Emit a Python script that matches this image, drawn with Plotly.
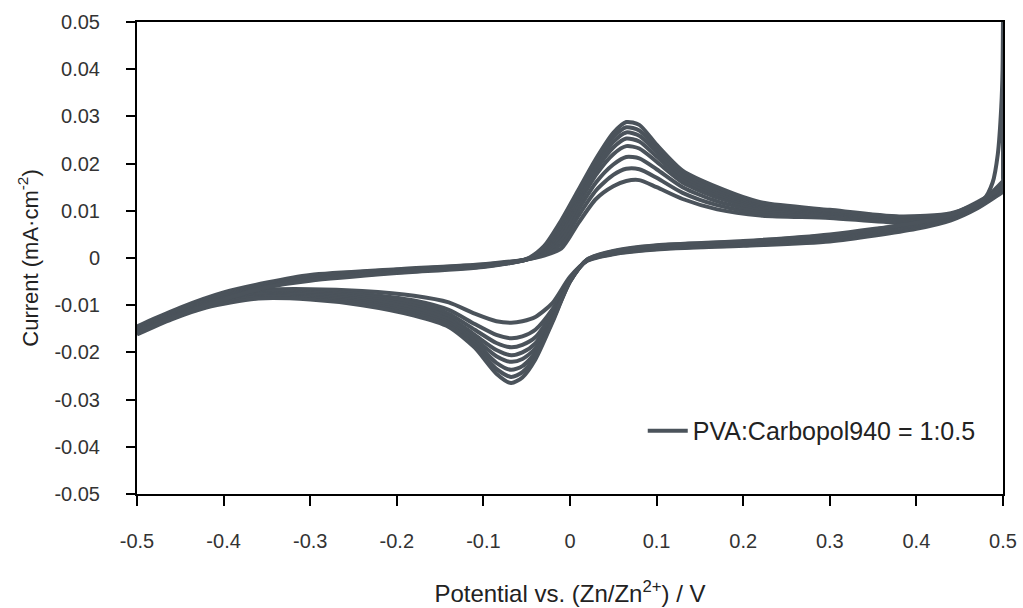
import plotly.graph_objects as go

# Potential grids (V) for the anodic (forward) and cathodic (reverse) sweeps
E_FWD = [-0.50, -0.45, -0.40, -0.35, -0.30, -0.20, -0.10, -0.05, -0.03, -0.01, 0.01, 0.03,
         0.05, 0.065, 0.08, 0.10, 0.13, 0.17, 0.22, 0.30, 0.38, 0.44, 0.47, 0.49, 0.50]
E_REV = [0.50, 0.47, 0.44, 0.40, 0.30, 0.20, 0.10, 0.05, 0.02, 0.00, -0.02, -0.04,
         -0.055, -0.068, -0.085, -0.11, -0.14, -0.18, -0.24, -0.30, -0.36, -0.42, -0.46, -0.50]

# Current density (mA/cm2), forward sweeps of the 8 cycles
I_FWD_1 = [-0.0145, -0.0105, -0.0073, -0.0052, -0.0036, -0.0024, -0.0013, -0.0003, 0.0005, 0.0020, 0.0075, 0.0125,
           0.0152, 0.0163, 0.0165, 0.0150, 0.0125, 0.0103, 0.0090, 0.0085, 0.0075, 0.0082, 0.0105, 0.0128, 0.0140]
I_FWD_2 = [-0.0148, -0.0108, -0.0075, -0.0054, -0.0038, -0.0025, -0.0014, -0.0003, 0.0008, 0.0030, 0.0090, 0.0143,
           0.0176, 0.0189, 0.0188, 0.0170, 0.0138, 0.0112, 0.0095, 0.0088, 0.0077, 0.0084, 0.0107, 0.0130, 0.0143]
I_FWD_3 = [-0.0150, -0.0110, -0.0078, -0.0055, -0.0040, -0.0026, -0.0015, -0.0003, 0.0011, 0.0040, 0.0103, 0.0160,
           0.0198, 0.0214, 0.0211, 0.0188, 0.0150, 0.0120, 0.0100, 0.0091, 0.0079, 0.0086, 0.0110, 0.0132, 0.0160]
I_FWD_4 = [-0.0152, -0.0112, -0.0080, -0.0057, -0.0042, -0.0027, -0.0016, -0.0003, 0.0014, 0.0050, 0.0115, 0.0176,
           0.0220, 0.0237, 0.0232, 0.0204, 0.0160, 0.0128, 0.0105, 0.0094, 0.0081, 0.0088, 0.0112, 0.0135, 0.0148]
I_FWD_5 = [-0.0154, -0.0114, -0.0082, -0.0058, -0.0043, -0.0028, -0.0017, -0.0003, 0.0017, 0.0060, 0.0125, 0.0187,
           0.0234, 0.0253, 0.0247, 0.0215, 0.0167, 0.0135, 0.0109, 0.0096, 0.0083, 0.0090, 0.0114, 0.0137, 0.0163]
I_FWD_6 = [-0.0156, -0.0116, -0.0084, -0.0060, -0.0045, -0.0029, -0.0017, -0.0003, 0.0020, 0.0068, 0.0133, 0.0196,
           0.0246, 0.0266, 0.0259, 0.0225, 0.0174, 0.0140, 0.0112, 0.0098, 0.0085, 0.0092, 0.0116, 0.0139, 0.0152]
I_FWD_7 = [-0.0158, -0.0118, -0.0086, -0.0061, -0.0046, -0.0030, -0.0018, -0.0003, 0.0023, 0.0074, 0.0140, 0.0204,
           0.0256, 0.0277, 0.0270, 0.0233, 0.0180, 0.0145, 0.0115, 0.0100, 0.0087, 0.0093, 0.0118, 0.0140, 0.0154]
I_FWD_8 = [-0.0160, -0.0120, -0.0088, -0.0062, -0.0048, -0.0032, -0.0019, -0.0002, 0.0025, 0.0080, 0.0145, 0.0210,
           0.0265, 0.0288, 0.0282, 0.0240, 0.0185, 0.0150, 0.0118, 0.0102, 0.0088, 0.0095, 0.0120, 0.0142, 0.0155]

# Reverse sweeps of the 8 cycles
I_REV_1 = [0.0140, 0.0105, 0.0080, 0.0062, 0.0035, 0.0026, 0.0018, 0.0008, -0.0006, -0.0040, -0.0095, -0.0125,
           -0.0134, -0.0137, -0.0134, -0.0118, -0.0094, -0.0080, -0.0070, -0.0066, -0.0068, -0.0088, -0.0115, -0.0145]
I_REV_2 = [0.0143, 0.0107, 0.0082, 0.0064, 0.0037, 0.0027, 0.0019, 0.0009, -0.0005, -0.0043, -0.0108, -0.0152,
           -0.0166, -0.0170, -0.0163, -0.0140, -0.0110, -0.0090, -0.0076, -0.0070, -0.0071, -0.0090, -0.0118, -0.0148]
I_REV_3 = [0.0160, 0.0108, 0.0084, 0.0066, 0.0040, 0.0029, 0.0020, 0.0010, -0.0005, -0.0045, -0.0115, -0.0168,
           -0.0184, -0.0189, -0.0180, -0.0152, -0.0118, -0.0096, -0.0080, -0.0073, -0.0073, -0.0093, -0.0120, -0.0150]
I_REV_4 = [0.0148, 0.0110, 0.0086, 0.0068, 0.0042, 0.0030, 0.0021, 0.0011, -0.0004, -0.0047, -0.0121, -0.0181,
           -0.0200, -0.0206, -0.0195, -0.0163, -0.0125, -0.0102, -0.0084, -0.0076, -0.0076, -0.0095, -0.0122, -0.0152]
I_REV_5 = [0.0163, 0.0111, 0.0087, 0.0070, 0.0044, 0.0032, 0.0023, 0.0012, -0.0004, -0.0048, -0.0125, -0.0192,
           -0.0214, -0.0220, -0.0208, -0.0171, -0.0131, -0.0107, -0.0088, -0.0079, -0.0078, -0.0098, -0.0124, -0.0154]
I_REV_6 = [0.0152, 0.0112, 0.0089, 0.0072, 0.0046, 0.0033, 0.0024, 0.0013, -0.0004, -0.0049, -0.0129, -0.0201,
           -0.0229, -0.0237, -0.0222, -0.0178, -0.0137, -0.0113, -0.0092, -0.0082, -0.0081, -0.0100, -0.0126, -0.0156]
I_REV_7 = [0.0154, 0.0114, 0.0090, 0.0074, 0.0048, 0.0035, 0.0026, 0.0014, -0.0003, -0.0050, -0.0132, -0.0208,
           -0.0242, -0.0252, -0.0235, -0.0185, -0.0142, -0.0118, -0.0096, -0.0085, -0.0083, -0.0102, -0.0128, -0.0158]
I_REV_8 = [0.0155, 0.0115, 0.0092, 0.0075, 0.0050, 0.0036, 0.0027, 0.0015, -0.0003, -0.0050, -0.0135, -0.0215,
           -0.0253, -0.0265, -0.0245, -0.0190, -0.0146, -0.0122, -0.0100, -0.0088, -0.0086, -0.0105, -0.0130, -0.0162]

# Sharp current rise at the anodic vertex seen in one cycle
SPIKE_E = [0.478, 0.488, 0.494, 0.498, 0.4995, 0.500, 0.500]
SPIKE_I = [0.0125, 0.0160, 0.0220, 0.0320, 0.0400, 0.0500, 0.0170]

LEGEND_NAME = "PVA:Carbopol940 = 1:0.5"
X_TICKS = [-0.5, -0.4, -0.3, -0.2, -0.1, 0, 0.1, 0.2, 0.3, 0.4, 0.5]
X_TICK_TEXT = ["-0.5", "-0.4", "-0.3", "-0.2", "-0.1", "0", "0.1", "0.2", "0.3", "0.4", "0.5"]
Y_TICKS = [-0.05, -0.04, -0.03, -0.02, -0.01, 0, 0.01, 0.02, 0.03, 0.04, 0.05]
Y_TICK_TEXT = ["-0.05", "-0.04", "-0.03", "-0.02", "-0.01", "0", "0.01", "0.02", "0.03", "0.04", "0.05"]

FWD = [I_FWD_1, I_FWD_2, I_FWD_3, I_FWD_4, I_FWD_5, I_FWD_6, I_FWD_7, I_FWD_8]
REV = [I_REV_1, I_REV_2, I_REV_3, I_REV_4, I_REV_5, I_REV_6, I_REV_7, I_REV_8]

COLOR = "#4b535b"
FONT = "Liberation Sans, Arial, sans-serif"

fig = go.Figure()
for k in range(8):
    if k == 7:
        ex = E_FWD[:-3] + SPIKE_E
        iy = FWD[k][:-3] + SPIKE_I
    else:
        ex = list(E_FWD)
        iy = list(FWD[k])
    ex = ex + E_REV
    iy = iy + REV[k]
    fig.add_trace(go.Scatter(
        x=ex, y=iy, mode="lines",
        line=dict(color=COLOR, width=4, shape="spline", smoothing=0.7),
        name=LEGEND_NAME, showlegend=(k == 0), legendgroup="cv",
        hoverinfo="skip",
    ))

fig.update_layout(
    width=1023, height=608,
    margin=dict(l=137, r=20, t=22, b=114, autoexpand=False),
    paper_bgcolor="white", plot_bgcolor="white",
    font=dict(family=FONT, color="#333333"),
    showlegend=True,
    legend=dict(x=0.584, y=0.1335, xanchor="left", yanchor="middle",
                bgcolor="rgba(0,0,0,0)", font=dict(size=25, color="#222222"),
                itemwidth=40),
)
fig.update_xaxes(
    range=[-0.5, 0.5], tickmode="array", tickvals=X_TICKS, ticktext=X_TICK_TEXT,
    ticks="outside", ticklen=10, tickwidth=2, tickcolor="black",
    showline=True, linecolor="black", linewidth=2, mirror=True,
    showgrid=False, zeroline=False, automargin=False,
    tickfont=dict(size=20, color="#333333"), ticklabelstandoff=18,
    title=dict(text="Potential vs. (Zn/Zn<sup>2+</sup>) / V", font=dict(size=24, color="#222222"), standoff=34),
)
fig.update_yaxes(
    range=[-0.05, 0.05], tickmode="array", tickvals=Y_TICKS, ticktext=Y_TICK_TEXT,
    ticks="outside", ticklen=9, tickwidth=2, tickcolor="black",
    showline=True, linecolor="black", linewidth=2, mirror=True,
    showgrid=False, zeroline=False, automargin=False,
    tickfont=dict(size=20, color="#333333"), ticklabelstandoff=22,
    title=dict(text="Current (mA·cm<sup>-2</sup>)", font=dict(size=22, color="#222222"), standoff=10),
)

fig.write_html("out.html")
